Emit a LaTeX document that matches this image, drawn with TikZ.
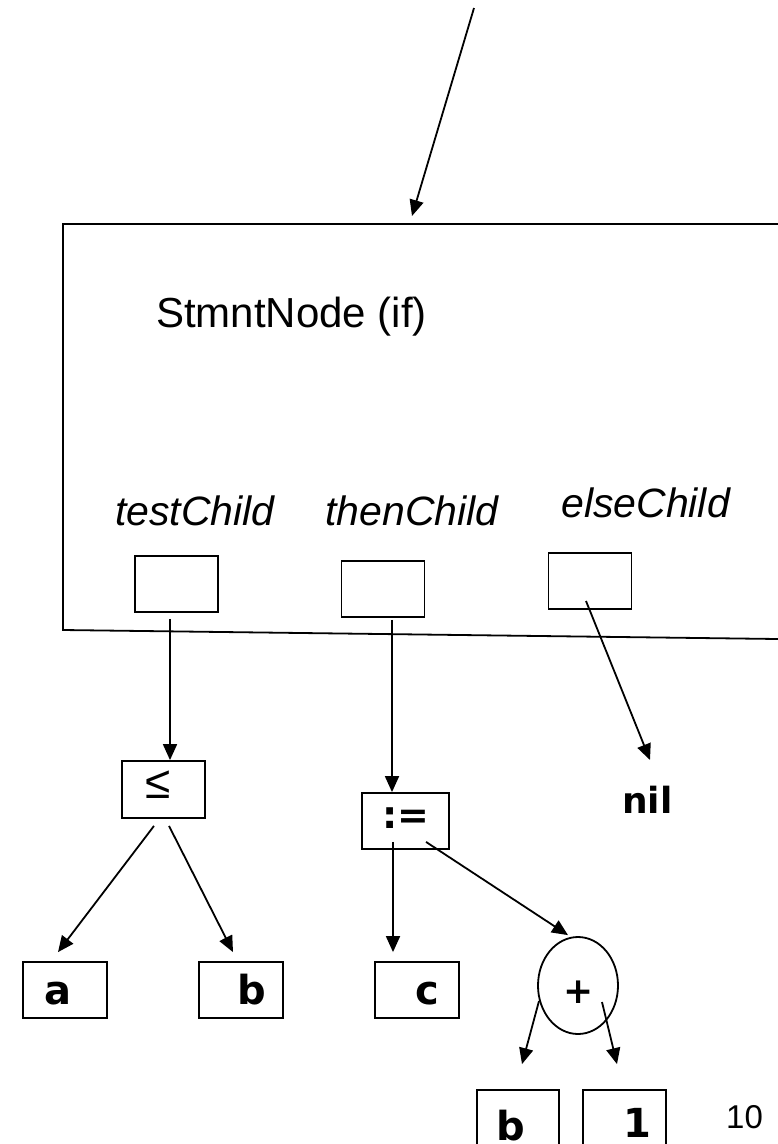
\documentclass[tikz,border=0pt]{standalone}
\usepackage{fontspec}
\setmainfont{Liberation Sans}
\newfontfamily\boldsans{DejaVu Sans Bold}
\usetikzlibrary{arrows.meta,shapes.geometric,calc}

\tikzset{
  cell/.style={draw, line width=1.8pt, rectangle, inner sep=0pt, minimum width=83pt, minimum height=56pt},
  link/.style={line width=1.8pt, -{Triangle[length=16pt,width=14pt]}},
  txt/.style={inner sep=0pt, font=\fontsize{42pt}{50pt}\selectfont},
  itxt/.style={inner sep=0pt, font=\fontsize{41pt}{50pt}\selectfont\itshape},
  btxt/.style={inner sep=0pt, font=\fontsize{40pt}{48pt}\selectfont\boldsans},
}

\begin{document}
\begin{tikzpicture}[x=1pt,y=-1pt]
\useasboundingbox (0,0) rectangle (778,1144);
\clip (0,0) rectangle (778,1144);

% the if-statement node, running off the right edge
\draw[line width=1.8pt] (778,224) -- (63,224) -- (63,630) -- (778,639);
\node[txt, anchor=base west] (title) at (156,327) {StmntNode (if)};

% field labels and slots
\node[itxt, anchor=base west] (ltest) at (115,525) {testChild};
\node[itxt, anchor=base east] (lthen) at (499,525) {thenChild};
\node[itxt, anchor=base west] (lelse) at (561,517) {elseChild};

\node[cell] (tb) at (176.5,584) {};
\node[cell] (hb) at (383,589) {};
\node[cell] (eb) at (590,581) {};

% incoming pointer
\coordinate (src) at (474,8);
\coordinate (dst) at (412,216);
\draw[link] (src) -- (dst);

% condition subtree
\node[cell, minimum height=57pt] (le) at (163.5,789.5) {};
\node[inner sep=0pt, font=\fontsize{46pt}{52pt}\selectfont, anchor=base] (lesym) at (158,798) {≤};
\node[cell, minimum width=84pt] (na) at (65,990) {};
\node[cell, minimum width=84pt] (nb) at (241,990) {};
\node[btxt, anchor=base west] at (44.5,1004) {a};
\node[btxt, anchor=base west] at (237,1004) {b};

% assignment subtree
\node[cell, minimum width=87pt] (as) at (405.5,821) {};
\node[btxt, font=\fontsize{38pt}{46pt}\selectfont\boldsans, anchor=base] (assym) at (406,828) {:=};
\node[cell, minimum width=84pt] (nc) at (417,990) {};
\node[btxt, anchor=base west] at (415,1004) {c};

\node[draw, line width=1.8pt, ellipse, inner sep=0pt, minimum width=80pt, minimum height=97pt] (pl) at (578,985.5) {};
\node[btxt, font=\fontsize{36pt}{42pt}\selectfont\boldsans, anchor=base] (plsym) at (579,1003) {+};

\node[cell, minimum width=82pt] (bb) at (518,1118) {};
\node[cell] (b1) at (624.5,1118) {};
\node[btxt, anchor=base] at (511,1140) {b};
\node[btxt, anchor=base] at (637.5,1137) {1};

% else branch
\node[btxt, font=\fontsize{36pt}{42pt}\selectfont\boldsans, anchor=base] (nil) at (647.5,813) {nil};

% page number
\node[inner sep=0pt, font=\fontsize{33pt}{40pt}\selectfont, anchor=base west] (pg) at (726,1128) {10};

% connectors
\draw[link] ($(tb.south)+(-6.5,6)$) -- ($(le.north)+(6.5,0)$);
\draw[link] ($(hb.south)+(9,2)$) -- ($(as.north)+(-13.5,0)$);
\draw[link] ($(eb.center)+(-4,20)$) -- ($(nil.base)+(2.5,-53)$);
\draw[link] ($(le.south)+(-9.5,7)$) -- ($(na.north)+(-7,-9)$);
\draw[link] ($(le.south)+(5.5,7)$) -- ($(nb.north)+(-8,-9)$);
\draw[link] ($(as.south)+(-12.5,-8)$) -- ($(nc.north)+(-24,-9)$);
\draw[link] ($(as.south)+(20.5,-8)$) -- ($(pl.north)+(-10,-1)$);
\draw[link] ($(pl.center)+(-39,15.5)$) -- ($(bb.north)+(4,-25)$);
\draw[link] ($(pl.center)+(24,16.5)$) -- ($(b1.north)+(-7.5,-25)$);
\end{tikzpicture}
\end{document}
